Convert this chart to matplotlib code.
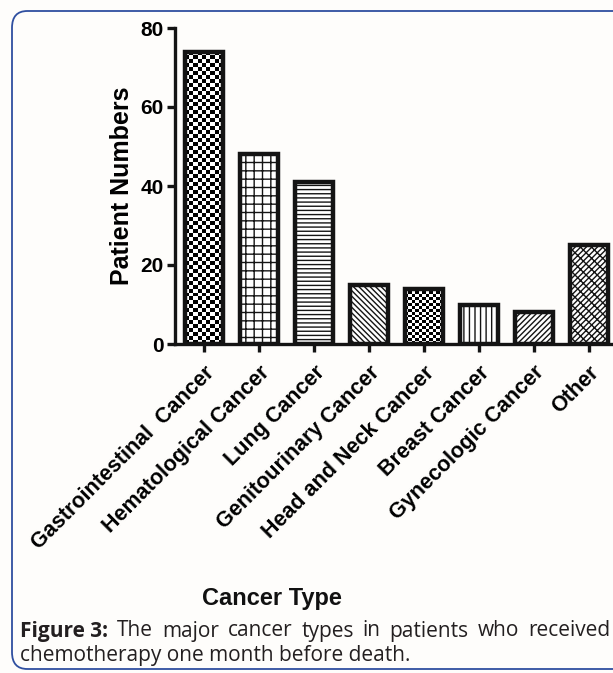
import numpy as np
import matplotlib
matplotlib.use("Agg")
import matplotlib.pyplot as plt
from matplotlib.patches import FancyBboxPatch

categories = ["Gastrointestinal  Cancer", "Hematological Cancer", "Lung Cancer",
              "Genitourinary Cancer", "Head and Neck Cancer", "Breast Cancer",
              "Gynecologic Cancer", "Other"]
values = [74, 48, 41, 15, 14, 10, 8, 25]
hatches = [None, "++", "----", "\\\\\\\\\\\\", None, "|||", "//////", "//////\\\\\\"]
checker = {0: (9, 1.0), 4: (11, 0.75)}  # bar index -> (columns, cell height in data units)
yticks = [0, 20, 40, 60, 80]

caption_bold = "Figure 3:"
caption_line1 = ["The", "major", "cancer", "types", "in", "patients", "who", "received"]
caption_line2 = "chemotherapy one month before death."

bg = "#fefdfb"
W, H = 613, 673
fig = plt.figure(figsize=(W / 100, H / 100), dpi=100, facecolor=bg)

ax_left, ax_right = 175 / W, 613 / W
ax_bottom, ax_top = 1 - 344 / H, 1 - 28 / H
ax = fig.add_axes([ax_left, ax_bottom, ax_right - ax_left, ax_top - ax_bottom])
ax.set_facecolor(bg)

x = np.arange(len(values))
width = 0.68
plt.rcParams["hatch.linewidth"] = 1.0
bars = ax.bar(x, values, width=width, color="white", edgecolor="#141414",
              linewidth=3.2, zorder=3)
for i, (b, h) in enumerate(zip(bars, hatches)):
    if h:
        b.set_hatch(h)
    if i in checker:
        b.set_facecolor("none")
        ncol, cell = checker[i]
        nrow = int(round(values[i] / cell))
        img = (np.add.outer(np.arange(nrow), np.arange(ncol)) % 2).astype(float)
        im = ax.imshow(img, cmap="gray", vmin=0, vmax=1, interpolation="nearest",
                       extent=[x[i] - width / 2, x[i] + width / 2, 0, values[i]],
                       aspect="auto", origin="lower", zorder=2.5)
        im.set_clip_path(b)

ax.set_xlim(-0.53, 7.44)
ax.set_ylim(0, 80)
ax.set_yticks(yticks)
ax.set_xticks(x)
ax.set_xticklabels(categories, rotation=45, ha="right", rotation_mode="anchor",
                   fontsize=15.5, fontweight="bold", family="Liberation Sans")
for t in ax.get_yticklabels():
    t.set_fontsize(15)
    t.set_fontweight("bold")
    t.set_family("Liberation Sans")
ax.tick_params(axis="both", width=2.4, length=6, color="#141414")
ax.tick_params(axis="x", pad=7)
ax.tick_params(axis="y", pad=2)
for s in ["top", "right"]:
    ax.spines[s].set_visible(False)
for s in ["left", "bottom"]:
    ax.spines[s].set_linewidth(2.4)
    ax.spines[s].set_color("#141414")

ax.set_ylabel("Patient Numbers", fontsize=18, fontweight="bold",
              family="Liberation Sans", labelpad=5)

fig.text(272 / W, 1 - 598 / H, "Cancer Type", fontsize=17, fontweight="bold",
         family="Liberation Sans", ha="center", va="center", color="#111111")

# caption (justified first line)
cap_y1 = 1 - 631 / H
cap_y2 = 1 - 656 / H
cap_color = "#231f20"
cap_fs = 15
line_start, line_end = 20, 610
first = fig.text(line_start / W, cap_y1, caption_bold, fontsize=cap_fs, fontweight="bold",
                 family="Open Sans", va="center", color=cap_color)
words = [fig.text(0, cap_y1, w, fontsize=cap_fs, family="Open Sans", va="center",
                  color=cap_color) for w in caption_line1]
fig.canvas.draw()
r = fig.canvas.get_renderer()
widths = [first.get_window_extent(r).width] + [t.get_window_extent(r).width for t in words]
gap = (line_end - line_start - sum(widths)) / len(words)
pos = line_start + widths[0] + gap
for t, wd in zip(words, widths[1:]):
    t.set_x(pos / W)
    pos += wd + gap
fig.text(line_start / W, cap_y2, caption_line2, fontsize=cap_fs, family="Open Sans",
         va="center", color=cap_color)

frame = FancyBboxPatch((12 / W, 4 / H), 1.2, 1 - 11 / H - 4 / H,
                       boxstyle="round,pad=0,rounding_size=0.025",
                       transform=fig.transFigure, facecolor="none",
                       edgecolor="#2f4fa0", linewidth=1.3)
fig.patches.append(frame)

fig.savefig("out.png", dpi=100, facecolor=bg)
